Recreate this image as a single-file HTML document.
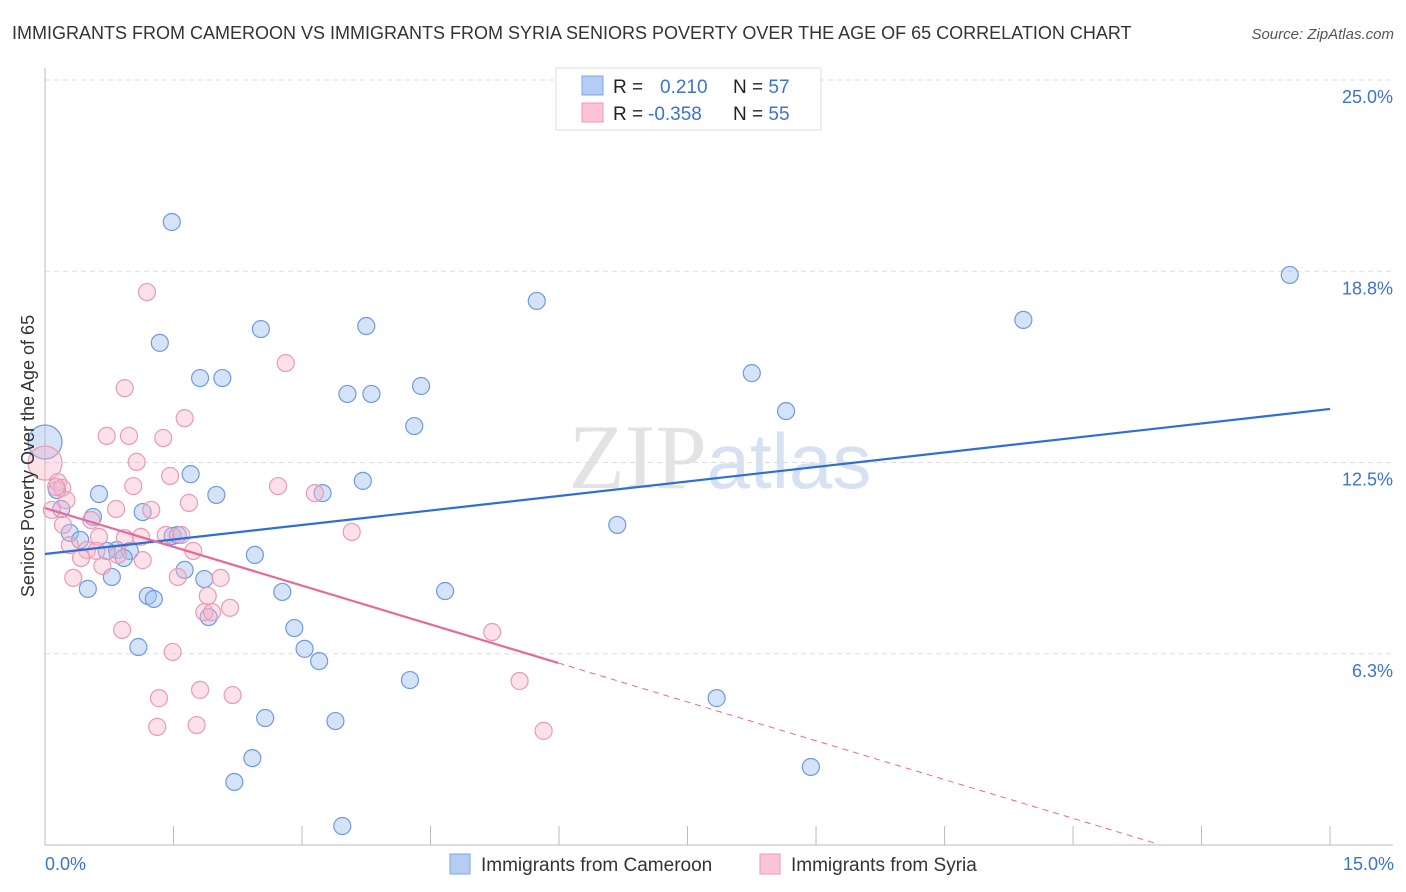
<!DOCTYPE html>
<html><head><meta charset="utf-8"><style>
body{margin:0;background:#fff;font-family:"Liberation Sans",sans-serif;}
svg{display:block}
</style></head><body>
<svg id="c" width="1406" height="892">
<text x="12" y="39" font-size="18" fill="#333">IMMIGRANTS FROM CAMEROON VS IMMIGRANTS FROM SYRIA SENIORS POVERTY OVER THE AGE OF 65 CORRELATION CHART</text>
<text x="1394" y="39" font-size="15" fill="#555" font-style="italic" text-anchor="end">Source: ZipAtlas.com</text>
<text x="720" y="488" font-size="92" fill="#e3e3e3" text-anchor="middle" font-family="Liberation Serif">ZIP<tspan fill="#d6e2f4" font-family="Liberation Sans" font-size="78">atlas</tspan></text>
<g id="grid"></g><g id="pts"></g><g id="lines"></g>
<text transform="translate(34,456) rotate(-90)" font-size="18" fill="#333" text-anchor="middle">Seniors Poverty Over the Age of 65</text>
<text x="45" y="870" font-size="18" fill="#3b73d1">0.0%</text>
<text x="1394" y="870" font-size="18" fill="#3b73d1" text-anchor="end">15.0%</text>
<g>
<rect x="556" y="68" width="265" height="62" fill="#fff" stroke="#ddd"/>
<rect x="582" y="76" width="21" height="19" fill="#b5cdf3" stroke="#7ea4e4"/>
<rect x="582" y="103" width="21" height="19" fill="#fcc4d4" stroke="#eb9ab3"/>
<text x="613" y="93" font-size="19" fill="#222">R = <tspan x="660" fill="#3b73d1">0.210</tspan><tspan x="733">N = </tspan><tspan fill="#3b73d1">57</tspan></text>
<text x="613" y="120" font-size="19" fill="#222">R = <tspan x="648" fill="#3b73d1">-0.358</tspan><tspan x="733">N = </tspan><tspan fill="#3b73d1">55</tspan></text>
</g>
<g>
<rect x="450" y="854" width="20" height="20" fill="#b5cdf3" stroke="#7ea4e4"/>
<text x="481" y="871" font-size="19" fill="#333">Immigrants from Cameroon</text>
<rect x="760" y="854" width="20" height="20" fill="#fcc4d4" stroke="#eb9ab3"/>
<text x="791" y="871" font-size="19" fill="#333">Immigrants from Syria</text>
</g>
</svg>
<script>
const yTicks=[25,18.75,12.5,6.25];
const yTickLabels=["25.0%","18.8%","12.5%","6.3%"];
const blueX=[1.48,1.34,2.52,3.75,5.74,11.42,14.53,1.81,2.07,3.53,3.81,4.39,8.25,8.65,4.31,0,1.70,3.71,0.63,2.0,3.24,0.14,0.19,0.56,1.14,6.68,0.29,0.41,1.49,1.55,0.84,0.72,0.99,0.92,2.45,1.63,0.78,1.86,0.50,2.77,4.67,1.20,1.27,1.91,2.91,1.09,3.03,3.20,4.26,7.84,2.57,3.39,2.42,8.94,2.21,3.47];
const blueY=[20.36,16.41,16.86,16.96,17.78,17.16,18.63,15.26,15.26,14.74,14.74,15.0,15.42,14.18,13.69,13.17,12.12,11.90,11.47,11.44,11.50,11.60,10.98,10.72,10.88,10.46,10.20,9.97,10.10,10.13,9.64,9.61,9.61,9.38,9.48,8.99,8.76,8.69,8.37,8.27,8.30,8.14,8.04,7.45,7.09,6.47,6.41,6.01,5.39,4.80,4.15,4.05,2.84,2.55,2.06,0.62];
const pinkX=[1.19,2.81,0.93,1.63,0.72,0.98,1.38,1.07,0,1.46,0.15,1.03,2.72,0.20,0.25,1.68,3.15,0.08,0.54,0.83,1.24,0.21,0.29,0.93,0.63,1.12,1.41,1.59,3.58,0.49,0.42,0.33,0.67,0.85,1.14,1.73,1.55,2.05,1.90,2.16,1.86,1.95,0.90,5.22,1.49,5.54,1.33,1.81,2.19,1.31,1.77,5.82,0.13,0.60];
const pinkY=[18.07,15.75,14.93,13.95,13.37,13.37,13.30,12.52,12.48,12.06,11.86,11.73,11.73,11.67,11.27,11.18,11.50,10.95,10.62,10.98,10.95,10.46,9.80,10.03,10.07,10.07,10.13,10.13,10.23,9.64,9.38,8.73,9.12,9.48,9.31,9.61,8.76,8.73,8.14,7.75,7.61,7.61,7.03,6.96,6.31,5.36,4.80,5.07,4.90,3.86,3.92,3.73,11.70,9.61];
const blueTrend=[[0,9.51],[15,14.25]];
const pinkTrend=[[0,11.01],[5.99,5.95]];
const pinkTrendDash=[[5.99,5.95],[12.97,0.05]];
const NS="http://www.w3.org/2000/svg";
const sx=v=>45+v*85.67, sy=v=>845-v*30.6;
function mk(tag,a,parent){const e=document.createElementNS(NS,tag);for(const k in a)e.setAttribute(k,a[k]);parent.appendChild(e);return e;}
const grid=document.getElementById('grid');
yTicks.forEach((t,i)=>{
 const l=mk('line',{x1:45,x2:1393,y1:sy(t),y2:sy(t),stroke:'#ddd','stroke-dasharray':'5,4'},grid);
 
 
 const tx=mk('text',{x:1393,y:sy(t)+23,'font-size':18,fill:'#3b73d1','text-anchor':'end'},grid);
 tx.textContent=yTickLabels[i];
 
 
});
const ax=mk('line',{x1:45,x2:1393,y1:845,y2:845,stroke:'#bbb'},grid);


const ay=mk('line',{x1:45,x2:45,y1:68,y2:845,stroke:'#bbb'},grid);


for(let i=0;i<=10;i++){const t=mk('line',{x1:sx(i*1.5),x2:sx(i*1.5),y1:826,y2:845,stroke:'#bbb'},grid);
 
 }
const pts=document.getElementById('pts');
function dots(X,Y,fill,stroke,name,bigIdx){X.forEach((x,i)=>{
 const c=mk('circle',{cx:sx(x),cy:sy(Y[i]),r:i===bigIdx?17:8.5,fill:fill,stroke:stroke,'stroke-width':1.2},pts);
 
 });}
dots(blueX,blueY,'rgba(160,192,240,0.45)','#6f9ae0','cameroon-point',15);
dots(pinkX,pinkY,'rgba(250,180,200,0.4)','#eb9ab3','syria-point',8);
const L=document.getElementById('lines');
function ln(p,col,name,dash){const l=mk('line',{x1:sx(p[0][0]),y1:sy(p[0][1]),x2:sx(p[1][0]),y2:sy(p[1][1]),stroke:col,'stroke-width':dash?1:2.2},L);
 if(dash)l.setAttribute('stroke-dasharray','6,5');
 
 }
ln(blueTrend,'#2d6fd6','cameroon-trend-line');
ln(pinkTrend,'#e8689a','syria-trend-line');
ln(pinkTrendDash,'#e8689a','syria-trend-extension',true);
</script>
</body></html>
